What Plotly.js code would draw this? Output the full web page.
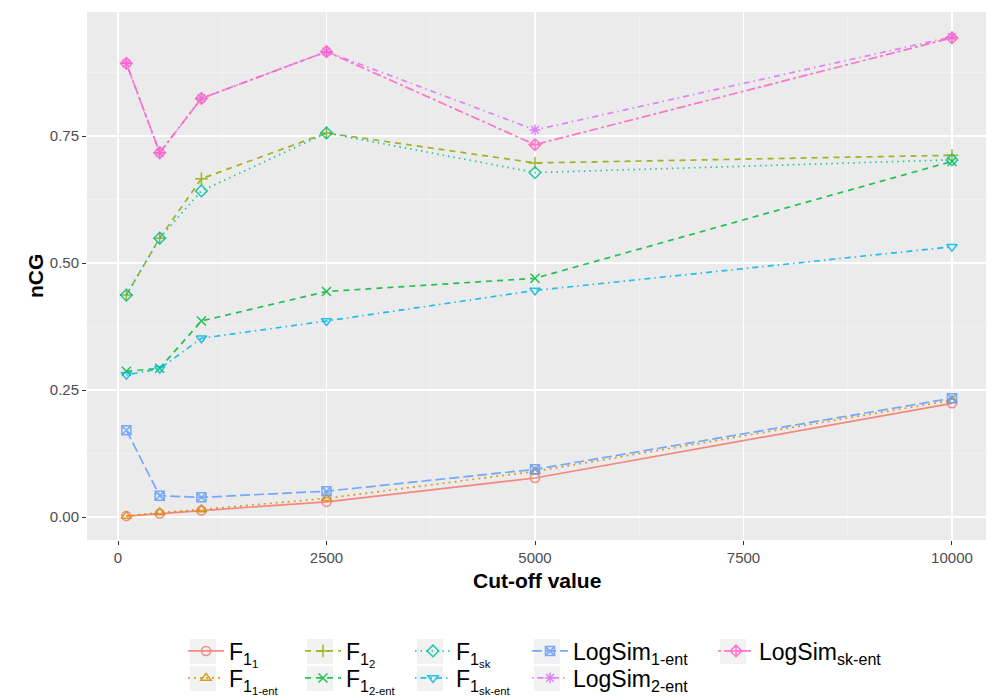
<!DOCTYPE html>
<html><head><meta charset="utf-8">
<script src="https://cdn.plot.ly/plotly-3.0.1.min.js"></script>
<style>body{margin:0;background:#fff}#chart{width:992px;height:698px}</style>
</head><body><div id="chart"></div>
<script>
// ---- data ----
const cutoffs = [100, 500, 1000, 2500, 5000, 10000];
const f1_1        = [0.002, 0.007, 0.013, 0.030, 0.077, 0.224];
const f1_1_ent    = [0.002, 0.009, 0.015, 0.037, 0.090, 0.230];
const f1_2        = [0.437, 0.549, 0.666, 0.756, 0.697, 0.712];
const f1_2_ent    = [0.287, 0.293, 0.386, 0.444, 0.470, 0.700];
const f1_sk       = [0.437, 0.549, 0.642, 0.756, 0.678, 0.703];
const f1_sk_ent   = [0.280, 0.292, 0.352, 0.386, 0.446, 0.532];
const logsim_1ent = [0.171, 0.042, 0.039, 0.051, 0.094, 0.234];
const logsim_2ent = [0.893, 0.717, 0.824, 0.916, 0.762, 0.945];
const logsim_skent= [0.893, 0.717, 0.824, 0.916, 0.733, 0.943];
const seriesLabels = [
  'F<sub>1<sub>1</sub></sub>', 'F<sub>1<sub>1-ent</sub></sub>',
  'F<sub>1<sub>2</sub></sub>', 'F<sub>1<sub>2-ent</sub></sub>',
  'F<sub>1<sub>sk</sub></sub>', 'F<sub>1<sub>sk-ent</sub></sub>',
  'LogSim<sub>1-ent</sub>', 'LogSim<sub>2-ent</sub>', 'LogSim<sub>sk-ent</sub>'
];
const xTitle = 'Cut-off value';
const yTitle = 'nCG';
const xTickVals = [0, 2500, 5000, 7500, 10000];
const yTickVals = [0, 0.25, 0.5, 0.75];
const yTickText = ['0.00', '0.25', '0.50', '0.75'];

// ---- styles ----
const seriesValues = [f1_1, f1_1_ent, f1_2, f1_2_ent, f1_sk, f1_sk_ent, logsim_1ent, logsim_2ent, logsim_skent];
const colors = ['#F8766D','#D39200','#93AA00','#00BA38','#00C19F','#00B9E3','#619CFF','#DB72FB','#FF61C3'];
const symbols = ['circle-open','triangle-up-open','cross-thin-open','x-thin-open','diamond-open','triangle-down-open','square-x-open','asterisk-open','diamond-cross-open'];
const dashes = ['solid','2px,4px','6px,5px','6px,5px','1.5px,4px','1.5px,4px,6px,4px','10px,4px','1.5px,4px,6px,4px','3px,3px,9px,3px'];
// legend slot per series: [column, row]
const legendCol = [0, 0, 1, 1, 2, 2, 3, 3, 4];
const legendRow = [0, 1, 0, 1, 0, 1, 0, 1, 0];
const legendMarkerPx = [203, 320, 430, 547, 733];
const legendRowPx = [651, 678];

const traces = seriesValues.map((vals, i) => ({
  type: 'scatter', mode: 'lines+markers',
  x: cutoffs, y: vals, name: seriesLabels[i], legend: i === 0 ? 'legend' : 'legend' + (i + 1),
  line: {color: colors[i], width: 1.7, dash: dashes[i]},
  marker: {color: colors[i], symbol: symbols[i], size: 9, line: {color: colors[i], width: 1.5}},
  opacity: 0.85
}));

const plotL = 87, plotR = 986, plotT = 12, plotB = 540;
const W = 992, H = 698;
const pxX = p => (p - plotL) / (plotR - plotL);
const pxY = p => (plotB - p) / (plotB - plotT);
const shapes = [];
seriesValues.forEach((_, i) => {
  const mx = legendMarkerPx[legendCol[i]], ry = legendRowPx[legendRow[i]];
  shapes.push({type: 'rect', xref: 'paper', yref: 'paper', layer: 'below',
    x0: pxX(mx - 13), x1: pxX(mx + 13), y0: pxY(ry + 13), y1: pxY(ry - 12),
    fillcolor: '#F2F2F2', line: {width: 0}});
});

const layout = {
  width: W, height: H,
  margin: {l: plotL, r: W - plotR, t: plotT, b: H - plotB, autoexpand: false},
  paper_bgcolor: '#ffffff', plot_bgcolor: '#EBEBEB',
  font: {family: 'Liberation Sans, Arial, sans-serif', color: '#000'},
  shapes: shapes,
  annotations: [
    {text: '<b>' + xTitle + '</b>', xref: 'paper', yref: 'paper', x: 0.5, y: pxY(580),
     xanchor: 'center', yanchor: 'middle', showarrow: false, font: {size: 21, color: '#000'}},
    {text: '<b>' + yTitle + '</b>', xref: 'paper', yref: 'paper', x: pxX(35), y: 0.5,
     xanchor: 'center', yanchor: 'middle', textangle: -90, showarrow: false, font: {size: 21, color: '#000'}}
  ],
  xaxis: {
    range: [-372, 10408], tickvals: xTickVals, ticktext: xTickVals.map(String),
    showgrid: true, gridcolor: '#ffffff', gridwidth: 1.3, zeroline: false,
    minor: {dtick: 1250, tick0: 1250, showgrid: true, gridcolor: '#F5F5F5', gridwidth: 0.6},
    ticks: 'outside', ticklen: 4, tickcolor: '#333333', tickwidth: 1,
    tickfont: {size: 15, color: '#4D4D4D'}, showline: false, automargin: false
  },
  yaxis: {
    range: [-0.045, 0.994], tickvals: yTickVals, ticktext: yTickText,
    showgrid: true, gridcolor: '#ffffff', gridwidth: 1.3, zeroline: false,
    minor: {dtick: 0.25, tick0: 0.125, showgrid: true, gridcolor: '#F5F5F5', gridwidth: 0.6},
    ticks: 'outside', ticklen: 4, tickcolor: '#333333', tickwidth: 1,
    tickfont: {size: 15, color: '#4D4D4D'}, showline: false, automargin: false
  },
  showlegend: true
};
seriesValues.forEach((_, i) => {
  const id = i === 0 ? 'legend' : 'legend' + (i + 1);
  layout[id] = {
    xref: 'container', yref: 'container',
    x: (legendMarkerPx[legendCol[i]] - 20) / W, xanchor: 'left',
    y: 1 - legendRowPx[legendRow[i]] / H, yanchor: 'middle',
    orientation: 'v', bgcolor: 'rgba(0,0,0,0)', borderwidth: 0,
    font: {size: 23, family: 'Liberation Sans, Arial, sans-serif', color: '#000'},
    itemwidth: 36
  };
});

Plotly.newPlot('chart', traces, layout, {displayModeBar: false, staticPlot: true});
</script>
</body></html>
